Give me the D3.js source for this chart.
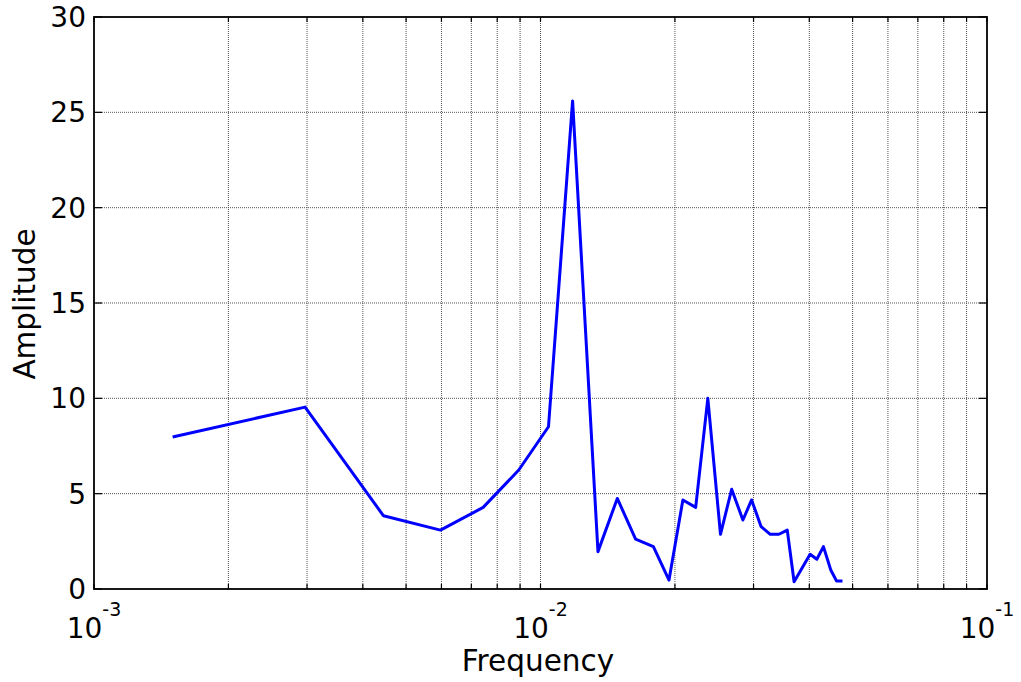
<!DOCTYPE html>
<html>
<head>
<meta charset="utf-8">
<script src="https://cdn.jsdelivr.net/npm/d3@7"></script>
<style>
  body { margin: 0; background: #fff; }
  text { font-family: "DejaVu Sans", Verdana, sans-serif; fill: #000; }
</style>
</head>
<body>
<div id="main"></div>
<script>
// ---------------- data --------------------------------------//

let freq = [
  0.0015, 0.00297, 0.00445, 0.00597, 0.00744, 0.00894, 0.01042, 0.0118,
  0.01345, 0.01486, 0.01633, 0.0179, 0.0194, 0.02084, 0.02226, 0.0237,
  0.0253, 0.0268, 0.0284, 0.0297, 0.0312, 0.0327, 0.0342, 0.0357,
  0.03698, 0.04016, 0.04158, 0.04302, 0.04468, 0.04603, 0.04746
]
let amplitude = [
  7.97, 9.54, 3.84, 3.09, 4.28, 6.24, 8.51, 25.6,
  1.96, 4.75, 2.62, 2.22, 0.47, 4.67, 4.28, 10.0,
  2.87, 5.23, 3.62, 4.67, 3.27, 2.87, 2.87, 3.09,
  0.38, 1.82, 1.56, 2.22, 1.0, 0.42, 0.42
]
let yTicks = [0, 5, 10, 15, 20, 25, 30]
let xExponents = [-3, -2, -1]
let xLabel = "Frequency"
let yLabel = "Amplitude"

// ---------------- global formatting vars -----------------//

let width = 1021;
let height = 682;
let plotLeft = 94, plotRight = 987, plotTop = 17, plotBottom = 589;

let svg = d3.select("#main")
  .append("svg")
  .attr("width", width)
  .attr("height", height)

let xScale = d3.scaleLog().domain([1e-3, 1e-1]).range([plotLeft, plotRight])
let yScale = d3.scaleLinear().domain([0, 30]).range([plotBottom, plotTop])

// all major + minor positions of the log axis
let xGrid = []
for (let e = -3; e < -1; e++) {
  for (let m = 1; m < 10; m++) xGrid.push(m * Math.pow(10, e))
}
xGrid.push(1e-1)

// ------- grid -------------//

svg.append("g")
  .selectAll("line")
  .data(xGrid.filter(d => d > 1e-3 && d < 1e-1))
  .join("line")
  .attr("x1", d => xScale(d)).attr("x2", d => xScale(d))
  .attr("y1", plotTop).attr("y2", plotBottom)
  .attr("stroke", "#555")
  .attr("stroke-width", 1)
  .attr("stroke-dasharray", "1,1")

svg.append("g")
  .selectAll("line")
  .data(yTicks.filter(d => d > 0 && d < 30))
  .join("line")
  .attr("x1", plotLeft).attr("x2", plotRight)
  .attr("y1", d => yScale(d)).attr("y2", d => yScale(d))
  .attr("stroke", "#555")
  .attr("stroke-width", 1)
  .attr("stroke-dasharray", "1,1")

// ------- ticks (inward, on all four sides) -------------//

let ticks = svg.append("g").attr("stroke", "#000").attr("stroke-width", 1.2)
xGrid.forEach(function(d) {
  ticks.append("line")
    .attr("x1", xScale(d)).attr("x2", xScale(d))
    .attr("y1", plotBottom).attr("y2", plotBottom - 5)
  ticks.append("line")
    .attr("x1", xScale(d)).attr("x2", xScale(d))
    .attr("y1", plotTop).attr("y2", plotTop + 5)
})
yTicks.forEach(function(d) {
  ticks.append("line")
    .attr("x1", plotLeft).attr("x2", plotLeft + 8)
    .attr("y1", yScale(d)).attr("y2", yScale(d))
  ticks.append("line")
    .attr("x1", plotRight).attr("x2", plotRight - 8)
    .attr("y1", yScale(d)).attr("y2", yScale(d))
})

// ------- data line -------------//

let line = d3.line()
  .x((d, i) => xScale(freq[i]))
  .y(d => yScale(d))

svg.append("path")
  .datum(amplitude)
  .attr("d", line)
  .attr("fill", "none")
  .attr("stroke", "#0000ff")
  .attr("stroke-width", 3)
  .attr("stroke-linejoin", "round")

// ------- frame -------------//

svg.append("rect")
  .attr("x", plotLeft).attr("y", plotTop)
  .attr("width", plotRight - plotLeft).attr("height", plotBottom - plotTop)
  .attr("fill", "none")
  .attr("stroke", "#000")
  .attr("stroke-width", 1.8)

// ------- tick labels -------------//

svg.append("g")
  .selectAll("text")
  .data(yTicks)
  .join("text")
  .attr("x", plotLeft - 8)
  .attr("y", d => yScale(d))
  .attr("dy", "0.36em")
  .attr("text-anchor", "end")
  .style("font-size", "28px")
  .text(d => d)

let xl = svg.append("g")
  .selectAll("text")
  .data(xExponents)
  .join("text")
  .attr("x", d => xScale(Math.pow(10, d)))
  .attr("y", 638)
  .attr("text-anchor", "middle")
  .style("font-size", "28px")
xl.append("tspan").text("10")
xl.append("tspan")
  .attr("dy", -22)
  .style("font-size", "19px")
  .text(d => d)

// ------- axis titles -------------//

svg.append("text")
  .attr("x", 538)
  .attr("y", 671)
  .attr("text-anchor", "middle")
  .style("font-size", "29.5px")
  .text(xLabel)

svg.append("text")
  .attr("transform", `translate(${35}, ${304}) rotate(-90)`)
  .attr("text-anchor", "middle")
  .style("font-size", "29.5px")
  .text(yLabel)
</script>
</body>
</html>
